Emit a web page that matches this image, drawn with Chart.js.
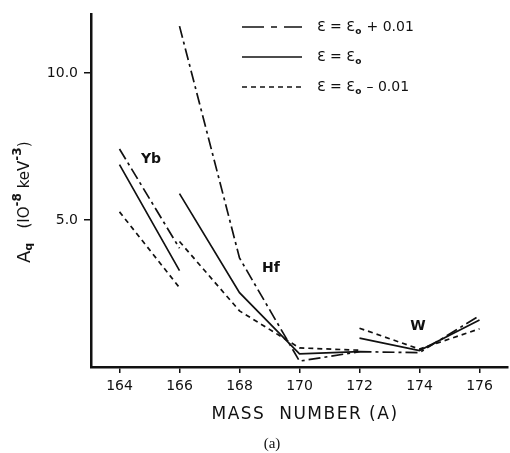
<!DOCTYPE html>
<html>
<head>
<meta charset="utf-8">
<script src="https://cdn.jsdelivr.net/npm/chart.js@4.4.0/dist/chart.umd.min.js"></script>
<style>
  html, body { margin: 0; padding: 0; background: #fff; }
  #wrap { width: 510px; height: 453px; }
</style>
</head>
<body>
<div id="wrap"><canvas id="chart"></canvas></div>
<script>
// mass numbers for each isotope chain
const ybMass = [164, 166];
const hfMass = [166, 168, 170, 172];
const wMass = [172, 174, 176];

// A_Q values (10^-8 keV^-3)
const plusYb = [7.42, 4.04];
const plusHf = [11.6, 3.71, 0.2, 0.52];
const plusW = [0.52, 0.49, 1.75];

const centralYb = [6.89, 3.28];
const centralHf = [5.9, 2.53, 0.45, 0.52];
const centralW = [0.98, 0.56, 1.6];

const minusYb = [5.28, 2.7];
const minusHf = [4.27, 1.91, 0.65, 0.57];
const minusW = [1.32, 0.61, 1.3];

const xTicks = [164, 166, 168, 170, 172, 174, 176];
const yTicks = [5, 10];

const elementNames = ["Yb", "Hf", "W"];
const elementMass = [165.05, 169.05, 173.95];
const elementAq = [7.05, 3.35, 1.4];

function seg(xs, ys) {
	return xs.map((x, i) => ({ x: x, y: ys[i] }));
}

// join segments, breaking the line between them
function series(...parts) {
	const out = [];
	parts.forEach((p, i) => {
		if (i > 0) out.push({ x: p[0].x, y: null });
		p.forEach((pt) => out.push(pt));
	});
	return out;
}

const dashDot = [12, 4, 3, 4];
const dashed = [5, 4];

const datasets = [
	{
		label: "plus",
		data: series(seg(ybMass, plusYb), seg(hfMass, plusHf), seg(wMass, plusW)),
		borderDash: dashDot,
	},
	{
		label: "central",
		data: series(seg(ybMass, centralYb), seg(hfMass, centralHf), seg(wMass, centralW)),
		borderDash: [],
	},
	{
		label: "minus",
		data: series(seg(ybMass, minusYb), seg(hfMass, minusHf), seg(wMass, minusW)),
		borderDash: dashed,
	},
].map((d) => Object.assign(d, {
	borderColor: "#111",
	borderWidth: 1.7,
	pointRadius: 0,
	tension: 0,
	spanGaps: false,
	fill: false,
}));

const legendText = [
	["Ɛ = Ɛ", "o", " + 0.01"],
	["Ɛ = Ɛ", "o", ""],
	["Ɛ = Ɛ", "o", " – 0.01"],
];

const tickFont = { family: "DejaVu Sans", size: 14 };

const extras = {
	id: "extras",
	afterDraw(chart) {
		const ctx = chart.ctx;
		const xs = chart.scales.x;
		const ys = chart.scales.y;
		ctx.save();
		ctx.fillStyle = "#111";
		ctx.strokeStyle = "#111";

		// legend
		datasets.forEach((d, i) => {
			const y = 27 + i * 30;
			ctx.lineWidth = 1.7;
			ctx.setLineDash(i === 0 ? [22, 7, 6, 7] : d.borderDash);
			ctx.beginPath();
			ctx.moveTo(242, y);
			ctx.lineTo(302, y);
			ctx.stroke();
			ctx.setLineDash([]);
			const t = legendText[i];
			ctx.font = "14px 'DejaVu Sans'";
			ctx.textBaseline = "middle";
			ctx.textAlign = "left";
			let x = 317;
			ctx.fillText(t[0], x, y);
			x += ctx.measureText(t[0]).width;
			ctx.font = "bold 9px 'DejaVu Sans'";
			ctx.fillText(t[1], x + 0.5, y + 5);
			x += ctx.measureText(t[1]).width + 1;
			ctx.font = "14px 'DejaVu Sans'";
			ctx.fillText(t[2], x, y);
		});

		// element labels
		ctx.font = "bold 14px 'DejaVu Sans'";
		ctx.textAlign = "center";
		ctx.textBaseline = "middle";
		elementNames.forEach((n, i) => {
			ctx.fillText(n, xs.getPixelForValue(elementMass[i]), ys.getPixelForValue(elementAq[i]));
		});

		// x title
		ctx.font = "17px 'DejaVu Sans'";
		ctx.letterSpacing = "1.5px";
		ctx.fillText("MASS  NUMBER (A)", 305, 415);
		ctx.letterSpacing = "0px";

		// caption
		ctx.font = "15px 'Liberation Serif'";
		ctx.fillText("(a)", 272, 444);

		// y title, rotated
		ctx.translate(25, 263);
		ctx.rotate(-Math.PI / 2);
		ctx.textAlign = "left";
		ctx.textBaseline = "middle";
		let x = 0;
		const part = (txt, font, dy) => {
			ctx.font = font;
			ctx.fillText(txt, x, dy);
			x += ctx.measureText(txt).width;
		};
		part("A", "18px 'DejaVu Sans'", 0);
		part("q", "bold 11px 'DejaVu Sans'", 4);
		part("   (IO", "15px 'DejaVu Sans'", 0);
		part("-8", "bold 12px 'DejaVu Sans'", -7);
		part(" keV", "15px 'DejaVu Sans'", 0);
		part("-3", "bold 12px 'DejaVu Sans'", -7);
		part(")", "15px 'DejaVu Sans'", 0);
		ctx.restore();
	},
};

new Chart(document.getElementById("chart"), {
	type: "line",
	data: { datasets: datasets },
	plugins: [extras],
	options: {
		responsive: true,
		maintainAspectRatio: false,
		animation: false,
		layout: { padding: { top: 11, right: 2, left: 0, bottom: 0 } },
		plugins: { legend: { display: false }, tooltip: { enabled: false } },
		scales: {
			x: {
				type: "linear",
				min: 163.05,
				max: 176.95,
				afterBuildTicks: (s) => { s.ticks = xTicks.map((v) => ({ value: v })); },
				afterFit: (s) => { s.height = 86; },
				ticks: { color: "#111", font: tickFont, padding: 5, maxRotation: 0 },
				grid: { drawOnChartArea: false, drawTicks: true, tickLength: 6, color: "#111", lineWidth: 1.5 },
				border: { color: "#111", width: 2.5 },
			},
			y: {
				min: 0,
				max: 12,
				afterBuildTicks: (s) => { s.ticks = yTicks.map((v) => ({ value: v })); },
				afterFit: (s) => { s.width = 91; },
				ticks: { color: "#111", font: tickFont, padding: 6, callback: (v) => v.toFixed(1) },
				grid: { drawOnChartArea: false, drawTicks: true, tickLength: 7, color: "#111", lineWidth: 1.5 },
				border: { color: "#111", width: 2.5 },
			},
		},
	},
});
</script>
</body>
</html>
